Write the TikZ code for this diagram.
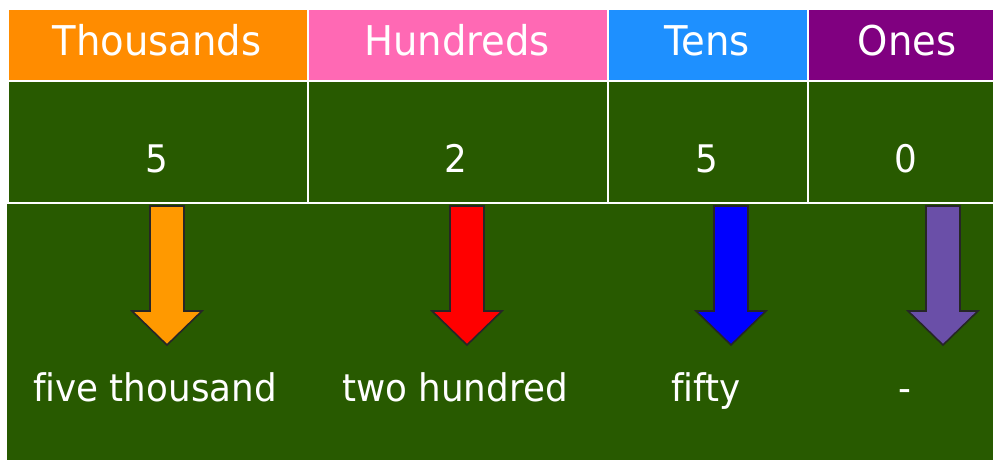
\documentclass[tikz,border=0pt]{standalone}
\usepackage{fontspec}
\setmainfont[FakeStretch=0.94,Ligatures={NoCommon}]{DejaVu Sans}
\definecolor{bggreen}{HTML}{285A00}
\definecolor{hThou}{HTML}{FF8C00}
\definecolor{hHund}{HTML}{FF69B4}
\definecolor{hTens}{HTML}{1E90FF}
\definecolor{hOnes}{HTML}{800080}
\definecolor{aOrange}{HTML}{FF9900}
\definecolor{aRed}{HTML}{FF0000}
\definecolor{aBlue}{HTML}{0000FF}
\definecolor{aPurple}{HTML}{6A4FA8}
\newcommand{\blockarrow}[2]{%
  \filldraw[arrowbox, fill=#2] (#1-17,206) -- (#1+17,206) -- (#1+17,311) -- (#1+35,311)
    -- (#1,345) -- (#1-35,311) -- (#1-17,311) -- cycle;}
\begin{document}
\begin{tikzpicture}[x=1pt,y=-1pt,
  txt/.style={anchor=base, text=white, font=\fontsize{38}{40}\selectfont, inner sep=0pt},
  head/.style={txt, font=\fontsize{41}{43}\selectfont},
  arrowbox/.style={draw=black!85, line width=1.6pt, line join=miter}]
\useasboundingbox (0,0) rectangle (993,460);
\fill[white] (0,0) rectangle (993,460);
% header cells
\fill[hThou] (9,10) rectangle (307,80);
\fill[hHund] (309,10) rectangle (607,80);
\fill[hTens] (609,10) rectangle (807,80);
\fill[hOnes] (809,10) rectangle (993,80);
% value cells
\fill[bggreen] (9,82) rectangle (307,202);
\fill[bggreen] (309,82) rectangle (607,202);
\fill[bggreen] (609,82) rectangle (807,202);
\fill[bggreen] (809,82) rectangle (993,202);
% bottom panel
\fill[bggreen] (7,204) rectangle (993,460);
% header texts
\node[head] (hth) at (157,56) {Thousands};
\node[head] (hhu) at (457,56) {Hundreds};
\node[head] (hte) at (707,56) {Tens};
\node[head] (hon) at (907,56) {Ones};
% digits
\node[txt] (dth) at (157,172.5) {5};
\node[txt] (dhu) at (456,172.5) {2};
\node[txt] (dte) at (707,172.5) {5};
\node[txt] (don) at (906,172.5) {0};
% arrows
\blockarrow{167}{aOrange}
\blockarrow{467}{aRed}
\blockarrow{731}{aBlue}
\blockarrow{943}{aPurple}
% words
\node[txt] (wth) at (155,401) {five thousand};
\node[txt] (whu) at (455,401) {two hundred};
\node[txt] (wte) at (706,401) {fifty};
\node[txt] (won) at (905,401) {-};
\end{tikzpicture}
\end{document}
